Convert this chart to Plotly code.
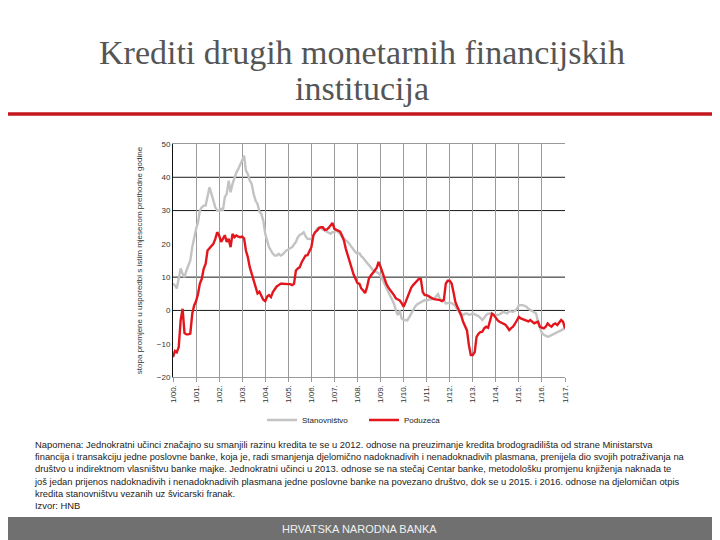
import plotly.graph_objects as go
import pandas as pd

# ---------------- data (monthly, Jan 2000 .. Jan 2017) ----------------
start_month = "2000-01-01"
years = list(range(2000, 2018))
tick_labels = ["1/%02d." % (y % 100) for y in years]

stanovnistvo = [
    8.1, 7.5, 6.6, 9.5, 12.6, 11.0, 10.0, 12.0, 13.5, 15.0, 19.0, 22.0,      # 2000
    24.5, 26.5, 30.0, 31.0, 31.5, 31.5, 34.0, 37.0, 35.0, 33.0, 31.0, 30.0,  # 2001
    30.0, 30.5, 30.0, 34.0, 35.0, 39.0, 35.5, 38.0, 40.0, 41.5, 42.5, 44.0,  # 2002
    45.0, 46.5, 42.0, 41.0, 39.0, 38.0, 35.0, 33.0, 32.0, 29.7, 29.0, 27.0,  # 2003
    23.0, 20.5, 19.0, 18.0, 17.0, 16.5, 16.5, 17.0, 16.5, 16.8, 17.5, 18.0,  # 2004
    18.3, 18.8, 19.0, 19.8, 20.6, 22.0, 22.7, 23.0, 23.5, 22.3, 21.5, 21.5,  # 2005
    21.5, 22.5, 23.5, 24.5, 25.0, 24.7, 24.2, 24.0, 23.7, 23.5, 23.0, 23.5,  # 2006
    23.5, 24.0, 23.5, 23.0, 22.0, 21.7, 21.0, 20.6, 19.8, 19.0, 18.5, 17.5,  # 2007
    17.0, 17.2, 16.3, 15.8, 15.0, 14.2, 13.5, 12.8, 12.2, 11.8, 11.5, 11.2,  # 2008
    10.5, 9.3, 8.2, 7.1, 5.8, 4.3, 3.2, 2.0, 0.0, -1.4, 0.0, -2.4,           # 2009
    -2.8, -3.0, -3.0, -2.0, -0.9, 0.2, 1.1, 1.8, 2.2, 2.6, 2.8, 3.1,         # 2010
    3.0, 3.2, 3.2, 3.4, 3.6, 4.2, 4.9, 3.3, 3.2, 3.0, 2.1, 2.3,              # 2011
    2.3, 2.2, 1.8, 1.3, 0.3, -0.4, -1.0, -1.4, -1.0, -0.9, -1.3, -1.2,       # 2012
    -0.9, -1.2, -1.4, -1.7, -2.2, -2.9, -2.2, -1.4, -1.0, -0.9, -0.9, -1.2,  # 2013
    -1.4, -1.3, -1.2, -0.8, -0.4, -0.7, -0.9, -0.2, -0.2, -0.4, -0.1, 0.5,   # 2014
    1.6, 1.7, 1.6, 1.4, 1.1, 0.5, 0.1, -0.3, -0.6, -0.9, -3.5, -5.5,         # 2015
    -6.8, -7.3, -7.6, -7.9, -7.7, -7.4, -7.1, -6.8, -6.5, -6.2, -5.9, -5.6,  # 2016
    -5.4,                                                                     # 2017
]

poduzeca = [
    -14.0, -12.2, -12.6, -11.0, -3.0, 0.5, -6.8, -7.2, -7.2, -7.0, -1.0, 1.5,  # 2000
    2.8, 5.0, 8.0, 9.5, 12.5, 14.0, 18.0, 18.6, 19.5, 20.0, 21.5, 23.5,        # 2001
    22.5, 20.6, 21.5, 22.6, 20.6, 21.5, 19.0, 23.0, 22.0, 22.5, 22.2, 22.0,    # 2002
    22.2, 21.6, 18.0, 16.0, 13.0, 11.0, 9.5, 7.0, 5.1, 5.6, 4.6, 3.2,          # 2003
    2.8, 4.2, 4.6, 4.0, 5.5, 6.3, 7.2, 7.6, 8.0, 8.0, 7.9, 7.9,                # 2004
    7.9, 7.9, 7.6, 8.0, 12.0, 12.6, 13.0, 14.5, 15.6, 16.5, 16.6, 18.0,        # 2005
    19.0, 22.5, 23.5, 24.0, 24.7, 25.0, 25.0, 24.2, 24.3, 24.8, 25.5, 26.3,    # 2006
    24.5, 24.2, 24.0, 23.7, 22.5, 21.0, 18.5, 16.5, 15.0, 13.0, 10.8, 9.5,     # 2007
    8.2, 8.0, 6.6, 6.0, 5.2, 7.0, 9.6, 10.5, 11.1, 12.0, 12.8, 14.6,           # 2008
    13.1, 11.1, 9.5, 8.1, 7.0, 6.3, 5.5, 4.6, 3.6, 3.3, 3.0, 2.2,              # 2009
    1.1, 2.5, 4.0, 5.6, 6.8, 7.6, 8.3, 8.8, 9.5, 9.4, 5.5, 4.6,                # 2010
    4.6, 4.3, 3.9, 3.6, 3.4, 3.3, 3.3, 3.1, 2.8, 3.2, 8.1, 8.9,                # 2011
    8.9, 8.1, 5.5, 2.5, 1.1, 0.0, -1.5, -3.4, -4.5, -6.0, -10.5, -13.4,        # 2012
    -13.4, -12.5, -8.0, -7.0, -6.5, -6.4, -5.4, -4.9, -5.2, -3.0, -1.0, -1.4,  # 2013
    -2.4, -3.0, -3.4, -3.7, -3.9, -4.3, -5.0, -5.9, -5.3, -4.9, -4.0, -3.0,    # 2014
    -1.9, -2.4, -2.6, -2.9, -3.2, -3.3, -2.9, -3.4, -3.9, -3.6, -3.4, -4.9,    # 2015
    -5.2, -5.4, -4.9, -3.9, -4.5, -4.9, -4.2, -3.9, -4.4, -3.6, -2.9, -3.4,    # 2016
    -5.4,                                                                       # 2017
]

grid_levels = [40, 30, 10, 0]
series_names = ["Stanovništvo", "Poduzeća"]
series_colors = ["#c3c3c3", "#e3161d"]

title_lines = ["Krediti drugih monetarnih financijskih", "institucija"]
y_title = "stopa promjene u usporedbi s istim mjesecom prethodne godine"
note_lines = [
    "Napomena: Jednokratni učinci značajno su smanjili razinu kredita te se u 2012. odnose na preuzimanje kredita brodogradilišta od strane Ministarstva",
    "financija i transakciju jedne poslovne banke, koja je, radi smanjenja djelomično nadoknadivih i nenadoknadivih plasmana, prenijela dio svojih potraživanja na",
    "društvo u indirektnom vlasništvu banke majke. Jednokratni učinci u 2013. odnose se na stečaj Centar banke, metodološku promjenu knjiženja naknada te",
    "još jedan prijenos nadoknadivih i nenadoknadivih plasmana jedne poslovne banke na povezano društvo, dok se u 2015. i 2016. odnose na djelomičan otpis",
    "kredita stanovništvu vezanih uz švicarski franak.",
    "Izvor: HNB",
]
footer_text = "HRVATSKA NARODNA BANKA"

# ---------------- geometry (page pixels; page body has an 8px margin) ----------------
OFF = 8
W, H = 720 - OFF, 540 - OFF
L = 173 - OFF
T = 144 - OFF
R = W - (565 - OFF)
B = H - (377 - OFF)
PW, PH = W - L - R, H - T - B


def px(page_x):
    return (page_x - OFF - L) / PW


def py(page_y):
    return (H - B - (page_y - OFF)) / PH


# ---------------- figure ----------------
dates = pd.date_range(start_month, periods=len(stanovnistvo), freq="MS")
tick_dates = [pd.Timestamp(year=y, month=1, day=1) for y in years]

fig = go.Figure()
for name, vals, col in zip(series_names, [stanovnistvo, poduzeca], series_colors):
    fig.add_trace(go.Scatter(x=dates, y=vals, mode="lines", name=name,
                             line=dict(color=col, width=2.4)))

# horizontal grid lines (dark)
for lv in grid_levels:
    fig.add_shape(type="line", xref="paper", yref="y", x0=0, x1=1, y0=lv, y1=lv,
                  line=dict(color="#1a1a1a", width=1), layer="below")

# red separator under the title
fig.add_shape(type="line", xref="paper", yref="paper",
              x0=px(0), x1=px(730), y0=py(114), y1=py(114),
              line=dict(color="#c4161c", width=3.5))

# footer bar
fig.add_shape(type="rect", xref="paper", yref="paper",
              x0=px(0), x1=px(730), y0=py(545), y1=py(517),
              line=dict(width=0), fillcolor="#707070")

annotations = [
    dict(text=title_lines[0], x=px(362), y=py(52), xref="paper", yref="paper",
         showarrow=False, xanchor="center", yanchor="middle",
         font=dict(family="Liberation Serif", size=34, color="#555555")),
    dict(text=title_lines[1], x=px(362), y=py(89), xref="paper", yref="paper",
         showarrow=False, xanchor="center", yanchor="middle",
         font=dict(family="Liberation Serif", size=34, color="#555555")),
    dict(text="<br>".join(note_lines), x=px(32), y=py(437), xref="paper", yref="paper",
         showarrow=False, xanchor="left", yanchor="top", align="left",
         font=dict(family="Liberation Sans Narrow, Liberation Sans", size=9.4, color="#222222")),
    dict(text=footer_text, x=px(359), y=py(529), xref="paper", yref="paper",
         showarrow=False, xanchor="center", yanchor="middle",
         font=dict(family="Liberation Sans", size=11, color="#f0f0f0")),
]

fig.update_layout(
    width=W, height=H,
    margin=dict(l=L, r=R, t=T, b=B, autoexpand=False),
    paper_bgcolor="white", plot_bgcolor="white",
    showlegend=True,
    legend=dict(orientation="h", x=px(262), y=py(420), xanchor="left", yanchor="middle",
                font=dict(family="Liberation Sans", size=8, color="#222222"),
                itemwidth=30, bgcolor="rgba(0,0,0,0)", entrywidth=57),
    annotations=annotations,
    xaxis=dict(type="date", range=[tick_dates[0], tick_dates[-1]],
               tickvals=tick_dates, ticktext=tick_labels, tickangle=-90,
               tickfont=dict(family="Liberation Sans", size=8, color="#333333"),
               showgrid=True, gridcolor="#9a9a9a", gridwidth=1,
               showline=True, linecolor="#9a9a9a", linewidth=1, mirror=True,
               ticks="outside", ticklen=4, tickcolor="#9a9a9a", zeroline=False),
    yaxis=dict(range=[-20, 50], dtick=10, tick0=0, showgrid=False, zeroline=False,
               showline=True, linecolor="#111111", linewidth=1,
               tickfont=dict(family="Liberation Sans", size=8, color="#333333"),
               title=dict(text=y_title, standoff=13,
                          font=dict(family="Liberation Sans", size=8, color="#333333"))),
)

fig.write_html("out.html")
